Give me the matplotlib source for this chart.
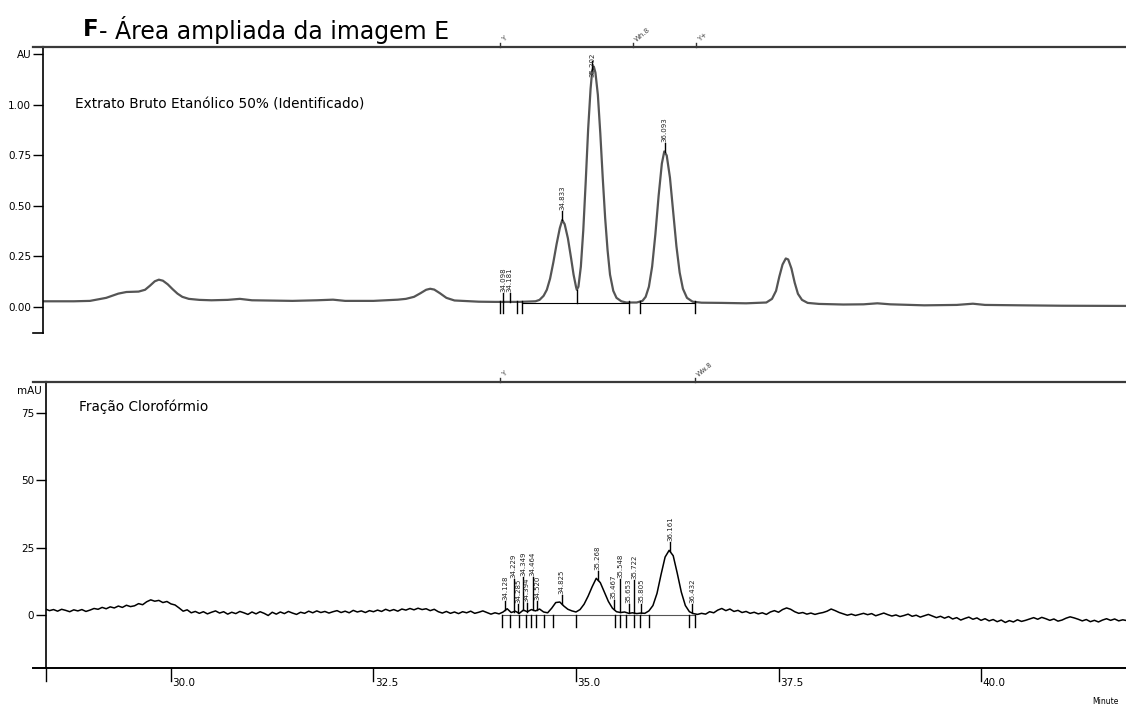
import matplotlib
matplotlib.use("Agg")
import matplotlib.pyplot as plt
import numpy as np

plt.rcParams["font.family"] = ["DejaVu Sans"]

# --- Extrato bruto etanólico 50% (AU) ---
ext_time = [28.42, 28.8, 29.0, 29.2, 29.35, 29.45, 29.6, 29.68, 29.74, 29.8,
            29.85, 29.9, 29.96, 30.02, 30.08, 30.14, 30.22, 30.35, 30.5, 30.7,
            30.85, 31.0, 31.5, 31.8, 32.0, 32.15, 32.5, 32.8, 32.9, 33.0,
            33.08, 33.15, 33.2, 33.25, 33.32, 33.4, 33.5, 33.8, 34.0, 34.3,
            34.5, 34.55, 34.6, 34.64, 34.68, 34.72, 34.76, 34.8, 34.83, 34.86,
            34.9, 34.94, 34.97, 35.0, 35.01, 35.03, 35.06, 35.09, 35.12, 35.15,
            35.18, 35.2, 35.22, 35.24, 35.27, 35.3, 35.33, 35.36, 35.39, 35.42,
            35.46, 35.5, 35.56, 35.62, 35.75, 35.82, 35.86, 35.9, 35.94, 35.98,
            36.02, 36.06, 36.09, 36.12, 36.16, 36.2, 36.24, 36.28, 36.32, 36.37,
            36.44, 36.55, 36.8, 37.1, 37.35, 37.42, 37.47, 37.51, 37.55, 37.59,
            37.62, 37.66, 37.7, 37.74, 37.79, 37.86, 38.0, 38.3, 38.55, 38.72,
            38.88, 39.3, 39.7, 39.9, 40.05, 40.5, 41.0, 41.8]
ext_au = [0.028, 0.028, 0.030, 0.045, 0.066, 0.074, 0.076, 0.085, 0.105, 0.127,
          0.135, 0.130, 0.112, 0.088, 0.066, 0.050, 0.040, 0.035, 0.033, 0.035,
          0.040, 0.033, 0.030, 0.033, 0.036, 0.030, 0.030, 0.036, 0.040, 0.050,
          0.068, 0.085, 0.090, 0.086, 0.068, 0.045, 0.032, 0.026, 0.025, 0.025,
          0.028, 0.035, 0.055, 0.085, 0.140, 0.220, 0.310, 0.390, 0.430, 0.410,
          0.340, 0.240, 0.160, 0.100, 0.085, 0.100, 0.200, 0.380, 0.620, 0.880,
          1.080, 1.170, 1.190, 1.160, 1.050, 0.860, 0.640, 0.440, 0.280, 0.160,
          0.080, 0.045, 0.028, 0.022, 0.022, 0.030, 0.050, 0.100, 0.200, 0.360,
          0.550, 0.710, 0.770, 0.750, 0.640, 0.470, 0.300, 0.170, 0.090, 0.045,
          0.026, 0.021, 0.020, 0.018, 0.022, 0.040, 0.080, 0.150, 0.210, 0.240,
          0.235, 0.190, 0.120, 0.065, 0.035, 0.020, 0.015, 0.012, 0.013, 0.018,
          0.013, 0.008, 0.010, 0.016, 0.010, 0.008, 0.006, 0.005]
ext_peak_rt = [34.098, 34.181, 34.833, 35.202, 36.093]
ext_drops = [34.06, 34.10, 34.27, 34.33, 35.65, 35.79, 36.47]
ext_valley = [35.01]
ext_events = [34.06, 35.70, 36.48]
ext_event_txt = ["Y", "Wh.8", "Y+"]

# --- Fração clorofórmio (mAU), amostrada a cada 0.05 min desde 28.45 ---
clo_start = 28.45
clo_step = 0.05
clo_mau = [
    2.2, 1.6, 2.0, 1.4, 2.1, 1.7, 1.2, 1.9, 1.5, 2.0, 1.3, 1.8,
    2.4, 2.1, 2.8, 2.3, 3.0, 2.6, 3.3, 2.8, 3.6, 3.1,
    3.4, 4.2, 3.8, 4.9, 5.6, 5.1, 5.4, 4.6, 5.0, 4.1,
    3.7, 2.6, 1.4, 1.9, 0.8, 1.3, 0.6, 1.2, 0.4, 1.0,
    1.5, 0.7, 1.2, 0.3, 1.0, 0.5, 1.3, 0.8, 0.2, 1.1,
    0.4, 1.2, 0.6, -0.2, 1.0, 0.3, 1.1, 0.5, 1.3, 0.7,
    0.2, 1.0, 0.6, 1.4, 0.8, 1.5, 0.9, 1.3, 0.7, 1.2,
    1.6, 0.9, 1.4, 0.8, 1.7, 1.1, 1.5, 0.9, 1.6, 1.2,
    1.8, 1.3, 2.1, 1.5, 2.0, 1.4, 2.2, 1.8, 2.4, 1.9,
    2.5, 2.0, 2.3, 1.6, 2.1, 1.2, 0.7, 1.3, 0.6, 1.1,
    0.5, 1.2, 0.8, 1.4, 0.6, 1.0, 1.5, 0.9, 0.3, 0.8,
    0.4, 1.1, 2.3, 0.9, 1.4, 0.6, 1.8, 1.2, 2.0, 1.5,
    2.2, 1.1, 0.8, 2.5, 4.6, 4.8, 3.3, 2.1, 1.5, 1.1,
    2.0, 4.0, 7.0, 10.5, 13.6, 12.0, 8.5, 5.0, 2.5, 1.2,
    0.9, 1.1, 0.6, 0.8, 0.5, 0.7, 0.6, 1.5, 3.5, 8.0,
    15.0, 21.5, 24.0, 22.0, 15.5, 8.5, 3.5, 1.2, 0.5, 0.2,
    0.6, 0.3, 1.2, 0.8, 1.8, 2.4, 1.6, 2.2, 1.3, 1.7,
    0.9, 1.3, 0.6, 1.0, 0.4, 0.8, 0.2, 1.1, 1.6, 1.0,
    2.0, 2.6, 2.1, 1.2, 0.6, 0.9, 0.3, 0.7, 0.2, 0.6,
    0.9, 1.4, 2.2, 1.6, 0.9, 0.4, -0.1, 0.3, -0.2, 0.2,
    0.6, 0.1, 0.5, -0.3, 0.2, 0.7, 0.1, -0.4, 0.0, -0.6,
    -0.2, 0.3, -0.5, -0.1, -0.8, -0.3, 0.2, -0.4, -1.0, -0.5,
    -1.2, -0.6, -1.5, -1.0, -1.9, -1.3, -0.8, -1.6, -1.1, -2.0,
    -1.4, -2.2, -1.7, -2.5, -1.9, -2.8, -2.1, -2.6, -1.8, -2.4,
    -2.0, -1.5, -1.0, -1.6, -0.9, -1.4, -2.0, -1.5, -2.3, -1.9,
    -1.2, -0.7, -1.1, -1.6, -2.2, -1.7, -2.5, -2.0, -2.6, -1.9,
    -1.4, -2.0, -1.5, -2.2, -1.8, -2.1,
]
clo_peak_rt = [34.128, 34.229, 34.285, 34.349, 34.394, 34.464, 34.520,
               34.825, 35.268, 35.467, 35.548, 35.653, 35.722, 35.805,
               36.161, 36.432]
clo_drops = [34.09, 34.19, 34.30, 34.38, 34.44, 34.51, 34.60, 34.72, 35.00,
             35.48, 35.54, 35.62, 35.72, 35.79, 35.90, 36.39, 36.47]
clo_events = [34.06, 36.47]
clo_event_txt = ["Y", "Ww.8"]

x_ticks = [30.0, 32.5, 35.0, 37.5, 40.0]

W, H = 1126, 711
TICK_FONT = 7.5


def px_to_data(ax, px):
    """Converte uma distância vertical em pixels para unidades do eixo y."""
    y0, y1 = ax.get_ylim()
    h = ax.get_position().height * H
    return px * (y1 - y0) / h


def frame(ax, left_px):
    for s in ("right", "bottom"):
        ax.spines[s].set_visible(False)
    ax.spines["top"].set_linewidth(1.6)
    ax.spines["top"].set_color("#3a3a3a")
    ax.spines["left"].set_linewidth(1.2)
    # prolonga a linha superior para a esquerda do eixo y
    w = ax.get_position().width * W
    ax.plot([-left_px / w, 0], [1, 1], transform=ax.transAxes,
            color="#3a3a3a", lw=1.6, clip_on=False)
    ax.tick_params(axis="y", direction="out", length=7.5, width=1.0,
                   labelsize=TICK_FONT, pad=1)
    ax.set_xticks([])


def draw_events(ax, rts, texts):
    h = px_to_data(ax, 4)
    top = ax.get_ylim()[1]
    for rt, t in zip(rts, texts):
        ax.plot([rt, rt], [top, top + h], color="#333333", lw=1.0, clip_on=False)
        ax.text(rt + 0.01, top + h, t, fontsize=5, rotation=40,
                ha="left", va="bottom", color="#444444", clip_on=False)


def draw_peak_labels(ax, t, y, rts, tick_px, fs, stagger=()):
    gap = px_to_data(ax, 1)
    top = ax.get_ylim()[1]
    for rt in rts:
        extra = 24 if rt in stagger else 0
        dy = px_to_data(ax, tick_px + extra)
        yp = float(np.interp(rt, t, y))
        ax.plot([rt, rt], [yp, yp + dy], color="black", lw=1.0)
        ytxt = min(yp + dy + gap, top - px_to_data(ax, 30))
        ax.text(rt, ytxt, f"{rt:.3f}", rotation=90, fontsize=fs,
                ha="center", va="bottom", color="#222222")


def draw_drops(ax, rts, base, length_px):
    dy = px_to_data(ax, length_px)
    for rt in rts:
        ax.plot([rt, rt], [base, base - dy], color="black", lw=1.0)


fig = plt.figure(figsize=(W / 100, H / 100), dpi=100)
fig.text(83 / W, 1 - 30 / H, "F", fontsize=16.5, fontweight="bold", va="center")
fig.text(99 / W, 1 - 30 / H, "- Área ampliada da imagem E", fontsize=17, va="center")

# painel superior
ax1 = fig.add_axes([43 / W, 1 - 333 / H, (W - 43) / W, 286 / H])
ax1.set_xlim(28.42, 41.79)
ax1.set_ylim(-0.129, 1.287)
frame(ax1, 10)
ax1.set_yticks([0.0, 0.25, 0.5, 0.75, 1.0, 1.25])
ax1.set_yticklabels(["0.00", "0.25", "0.50", "0.75", "1.00", "AU"])
ax1.plot([-10 / ((W - 43)), 0], [0, 0], transform=ax1.transAxes,
         color="black", lw=1.2, clip_on=False)
ax1.plot(ext_time, ext_au, color="#555555", lw=1.6)
base1 = 0.022
ax1.plot([34.33, 35.65], [base1, base1], color="black", lw=0.8)
ax1.plot([35.79, 36.47], [base1, base1], color="black", lw=0.8)
draw_drops(ax1, ext_drops, base1 + 0.005, 12)
for rt in ext_valley:
    yv = float(np.interp(rt, ext_time, ext_au))
    ax1.plot([rt, rt], [yv, base1], color="black", lw=1.0)
draw_peak_labels(ax1, ext_time, ext_au, ext_peak_rt, 9, 5)
draw_events(ax1, ext_events, ext_event_txt)
ax1.text(75 / W, 1 - 105 / H, "Extrato Bruto Etanólico 50% (Identificado)",
         transform=fig.transFigure, fontsize=9.8, va="center")

# painel inferior
ax2 = fig.add_axes([46 / W, 1 - 668 / H, (W - 46) / W, 286 / H])
ax2.set_xlim(28.457, 41.79)
ax2.set_ylim(-19.7, 86.5)
frame(ax2, 13)
ax2.set_yticks([0, 25, 50, 75])
ax2.set_yticklabels(["0", "25", "50", "75"])
ax2.text(-4 / (W - 46), 83.2, "mAU", transform=ax2.get_yaxis_transform(),
         fontsize=TICK_FONT, ha="right", va="center")
clo_time = np.round(clo_start + clo_step * np.arange(len(clo_mau)), 3)
ax2.plot(clo_time, clo_mau, color="black", lw=1.1)
ax2.plot([34.09, 36.47], [0, 0], color="#555555", lw=0.8)
draw_drops(ax2, clo_drops, 0.0, 12)
draw_peak_labels(ax2, clo_time, clo_mau, clo_peak_rt, 9, 5,
                 stagger=(34.229, 34.349, 34.464, 35.548, 35.722))
draw_events(ax2, clo_events, clo_event_txt)
ax2.text(79 / W, 1 - 407 / H, "Fração Clorofórmio",
         transform=fig.transFigure, fontsize=9.8, va="center")

# eixo do tempo
w2 = (W - 46)
ax2.plot([-13 / w2, 1], [0, 0], transform=ax2.transAxes, color="black",
         lw=1.4, clip_on=False)
tick_len = px_to_data(ax2, 13)
ylo = ax2.get_ylim()[0]
for xt in [28.457] + x_ticks:
    ax2.plot([xt, xt], [ylo, ylo - tick_len], color="black", lw=1.0, clip_on=False)
for xt in x_ticks:
    ax2.text(xt + 0.02, ylo - px_to_data(ax2, 15), f"{xt:.1f}",
             fontsize=TICK_FONT, ha="left", va="center")
fig.text(1105 / W, 1 - 701 / H, "Minute", fontsize=5.5, ha="center", va="center")

fig.savefig("out.png", dpi=100)
